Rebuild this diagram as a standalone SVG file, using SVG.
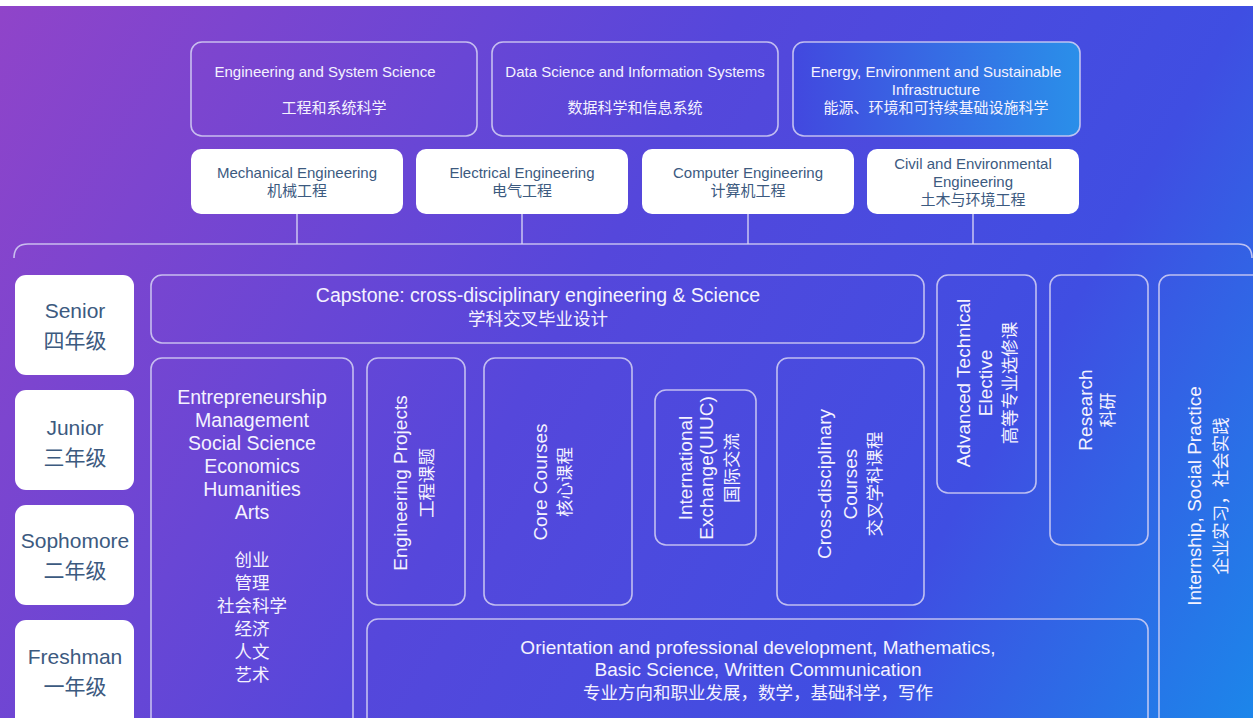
<svg xmlns="http://www.w3.org/2000/svg" width="1253" height="718" viewBox="0 0 1253 718">
<defs>
<linearGradient id="bg" x1="0" y1="0" x2="1253" y2="718" gradientUnits="userSpaceOnUse">
<stop offset="0" stop-color="#9044c9"/>
<stop offset="0.45" stop-color="#5547db"/>
<stop offset="0.75" stop-color="#3f4ee2"/>
<stop offset="1" stop-color="#1c86ea"/>
</linearGradient>
<linearGradient id="energy" x1="0" y1="0" x2="1" y2="0">
<stop offset="0" stop-color="#4248df"/>
<stop offset="1" stop-color="#2a8fe9"/>
</linearGradient>
<style>
.ob{fill:none;stroke:#d6d2f5;stroke-width:1.6;stroke-opacity:0.85}
.wb{fill:#ffffff}
.wt{fill:#f4f2ff;font-family:"Liberation Sans","Noto Sans CJK SC",sans-serif;text-anchor:middle}
.dt{fill:#3c5a7f;font-family:"Liberation Sans","Noto Sans CJK SC",sans-serif;text-anchor:middle}
.cn{font-family:"Noto Sans CJK SC",sans-serif}
.conn{fill:none;stroke:#d6d2f5;stroke-width:1.6;stroke-opacity:0.85}
</style>
</defs>
<rect x="0" y="0" width="1253" height="718" fill="#ffffff"/>
<rect x="0" y="6" width="1253" height="712" fill="url(#bg)"/>

<g id="connectors">
<path class="conn" d="M297 214V244M522 214V244M748 214V244M973 214V244"/>
<path class="conn" d="M14 258Q14 244 28 244H1238Q1252 244 1252 258"/>
</g>

<g id="school-ess">
<rect class="ob" x="191" y="42" width="286" height="94" rx="11"/>
<text class="wt" x="325" y="77" font-size="15">Engineering and System Science</text>
<text class="wt cn" x="334" y="113" font-size="15">工程和系统科学</text>
</g>
<g id="school-dsis">
<rect class="ob" x="492" y="42" width="286" height="94" rx="11"/>
<text class="wt" x="635" y="77" font-size="15">Data Science and Information Systems</text>
<text class="wt cn" x="635" y="113" font-size="15">数据科学和信息系统</text>
</g>
<g id="school-eesi">
<rect x="793" y="42" width="287" height="94" rx="11" fill="url(#energy)" stroke="#d6d2f5" stroke-width="1.6" stroke-opacity="0.85"/>
<text class="wt" x="936" y="77" font-size="15">Energy, Environment and Sustainable</text>
<text class="wt" x="936" y="95" font-size="15">Infrastructure</text>
<text class="wt cn" x="936" y="113" font-size="15">能源、环境和可持续基础设施科学</text>
</g>

<g id="major-me">
<rect class="wb" x="191" y="149" width="212" height="65" rx="10"/>
<text class="dt" x="297" y="178" font-size="15">Mechanical Engineering</text>
<text class="dt cn" x="297" y="196" font-size="15">机械工程</text>
</g>
<g id="major-ee">
<rect class="wb" x="416" y="149" width="212" height="65" rx="10"/>
<text class="dt" x="522" y="178" font-size="15">Electrical Engineering</text>
<text class="dt cn" x="522" y="196" font-size="15">电气工程</text>
</g>
<g id="major-ce">
<rect class="wb" x="642" y="149" width="212" height="65" rx="10"/>
<text class="dt" x="748" y="178" font-size="15">Computer Engineering</text>
<text class="dt cn" x="748" y="196" font-size="15">计算机工程</text>
</g>
<g id="major-cee">
<rect class="wb" x="867" y="149" width="212" height="65" rx="10"/>
<text class="dt" x="973" y="169" font-size="15">Civil and Environmental</text>
<text class="dt" x="973" y="187" font-size="15">Engineering</text>
<text class="dt cn" x="973" y="205" font-size="15">土木与环境工程</text>
</g>

<g id="year-senior">
<rect class="wb" x="15" y="275" width="119" height="100" rx="11"/>
<text class="dt" x="75" y="318" font-size="21">Senior</text>
<text class="dt cn" x="75" y="348" font-size="21">四年级</text>
</g>
<g id="year-junior">
<rect class="wb" x="15" y="390" width="119" height="100" rx="11"/>
<text class="dt" x="75" y="435" font-size="21">Junior</text>
<text class="dt cn" x="75" y="465" font-size="21">三年级</text>
</g>
<g id="year-sophomore">
<rect class="wb" x="15" y="505" width="119" height="100" rx="11"/>
<text class="dt" x="75" y="548" font-size="21">Sophomore</text>
<text class="dt cn" x="75" y="578" font-size="21">二年级</text>
</g>
<g id="year-freshman">
<rect class="wb" x="15" y="620" width="119" height="110" rx="11"/>
<text class="dt" x="75" y="664" font-size="21">Freshman</text>
<text class="dt cn" x="75" y="694" font-size="21">一年级</text>
</g>

<g id="capstone">
<rect class="ob" x="151" y="275" width="773" height="68" rx="11"/>
<text class="wt" x="538" y="302" font-size="19.5">Capstone: cross-disciplinary engineering &amp; Science</text>
<text class="wt cn" x="538" y="325" font-size="17.5">学科交叉毕业设计</text>
</g>

<g id="humanities">
<rect class="ob" x="151" y="358" width="202" height="380" rx="11"/>
<text class="wt" x="252" y="404" font-size="19.5">Entrepreneurship</text>
<text class="wt" x="252" y="427" font-size="19.5">Management</text>
<text class="wt" x="252" y="450" font-size="19.5">Social Science</text>
<text class="wt" x="252" y="473" font-size="19.5">Economics</text>
<text class="wt" x="252" y="496" font-size="19.5">Humanities</text>
<text class="wt" x="252" y="519" font-size="19.5">Arts</text>
<text class="wt cn" x="252" y="566" font-size="17.5">创业</text>
<text class="wt cn" x="252" y="589" font-size="17.5">管理</text>
<text class="wt cn" x="252" y="612" font-size="17.5">社会科学</text>
<text class="wt cn" x="252" y="635" font-size="17.5">经济</text>
<text class="wt cn" x="252" y="658" font-size="17.5">人文</text>
<text class="wt cn" x="252" y="681" font-size="17.5">艺术</text>
</g>

<g id="eng-projects">
<rect class="ob" x="367" y="358" width="98" height="247" rx="11"/>
<g transform="translate(400,483) rotate(-90)">
<text class="wt" x="0" y="7" font-size="19">Engineering Projects</text>
<text class="wt cn" x="0" y="33" font-size="17.5">工程课题</text>
</g>
</g>

<g id="core-courses">
<rect class="ob" x="484" y="358" width="148" height="247" rx="11"/>
<g transform="translate(540,482) rotate(-90)">
<text class="wt" x="0" y="7" font-size="19">Core Courses</text>
<text class="wt cn" x="0" y="31" font-size="17.5">核心课程</text>
</g>
</g>

<g id="intl-exchange">
<rect class="ob" x="655" y="390" width="101" height="155" rx="11"/>
<g transform="translate(685,468) rotate(-90)">
<text class="wt" x="0" y="7" font-size="19">International</text>
<text class="wt" x="0" y="28" font-size="19">Exchange(UIUC)</text>
<text class="wt cn" x="0" y="53" font-size="17.5">国际交流</text>
</g>
</g>

<g id="cross-disciplinary">
<rect class="ob" x="777" y="358" width="147" height="247" rx="11"/>
<g transform="translate(826,484) rotate(-90)">
<text class="wt" x="0" y="5" font-size="19">Cross-disciplinary</text>
<text class="wt" x="0" y="31" font-size="19">Courses</text>
<text class="wt cn" x="0" y="55" font-size="17.5">交叉学科课程</text>
</g>
</g>

<g id="adv-elective">
<rect class="ob" x="937" y="275" width="99" height="218" rx="11"/>
<g transform="translate(963,383) rotate(-90)">
<text class="wt" x="0" y="7" font-size="19">Advanced Technical</text>
<text class="wt" x="0" y="29" font-size="19">Elective</text>
<text class="wt cn" x="0" y="53" font-size="17.5">高等专业选修课</text>
</g>
</g>

<g id="research">
<rect class="ob" x="1050" y="275" width="98" height="270" rx="11"/>
<g transform="translate(1085,410) rotate(-90)">
<text class="wt" x="0" y="7" font-size="19">Research</text>
<text class="wt cn" x="0" y="29" font-size="17.5">科研</text>
</g>
</g>

<g id="internship">
<rect class="ob" x="1159" y="275" width="110" height="460" rx="11"/>
<g transform="translate(1196,496) rotate(-90)">
<text class="wt" x="0" y="5" font-size="19">Internship, Social Practice</text>
<text class="wt cn" x="0" y="31" font-size="17.5">企业实习，社会实践</text>
</g>
</g>

<g id="foundation">
<rect class="ob" x="367" y="619" width="781" height="120" rx="11"/>
<text class="wt" x="758" y="654" font-size="19">Orientation and professional development, Mathematics,</text>
<text class="wt" x="758" y="676" font-size="19">Basic Science, Written Communication</text>
<text class="wt cn" x="758" y="699" font-size="17.5">专业方向和职业发展，数学，基础科学，写作</text>
</g>
</svg>
